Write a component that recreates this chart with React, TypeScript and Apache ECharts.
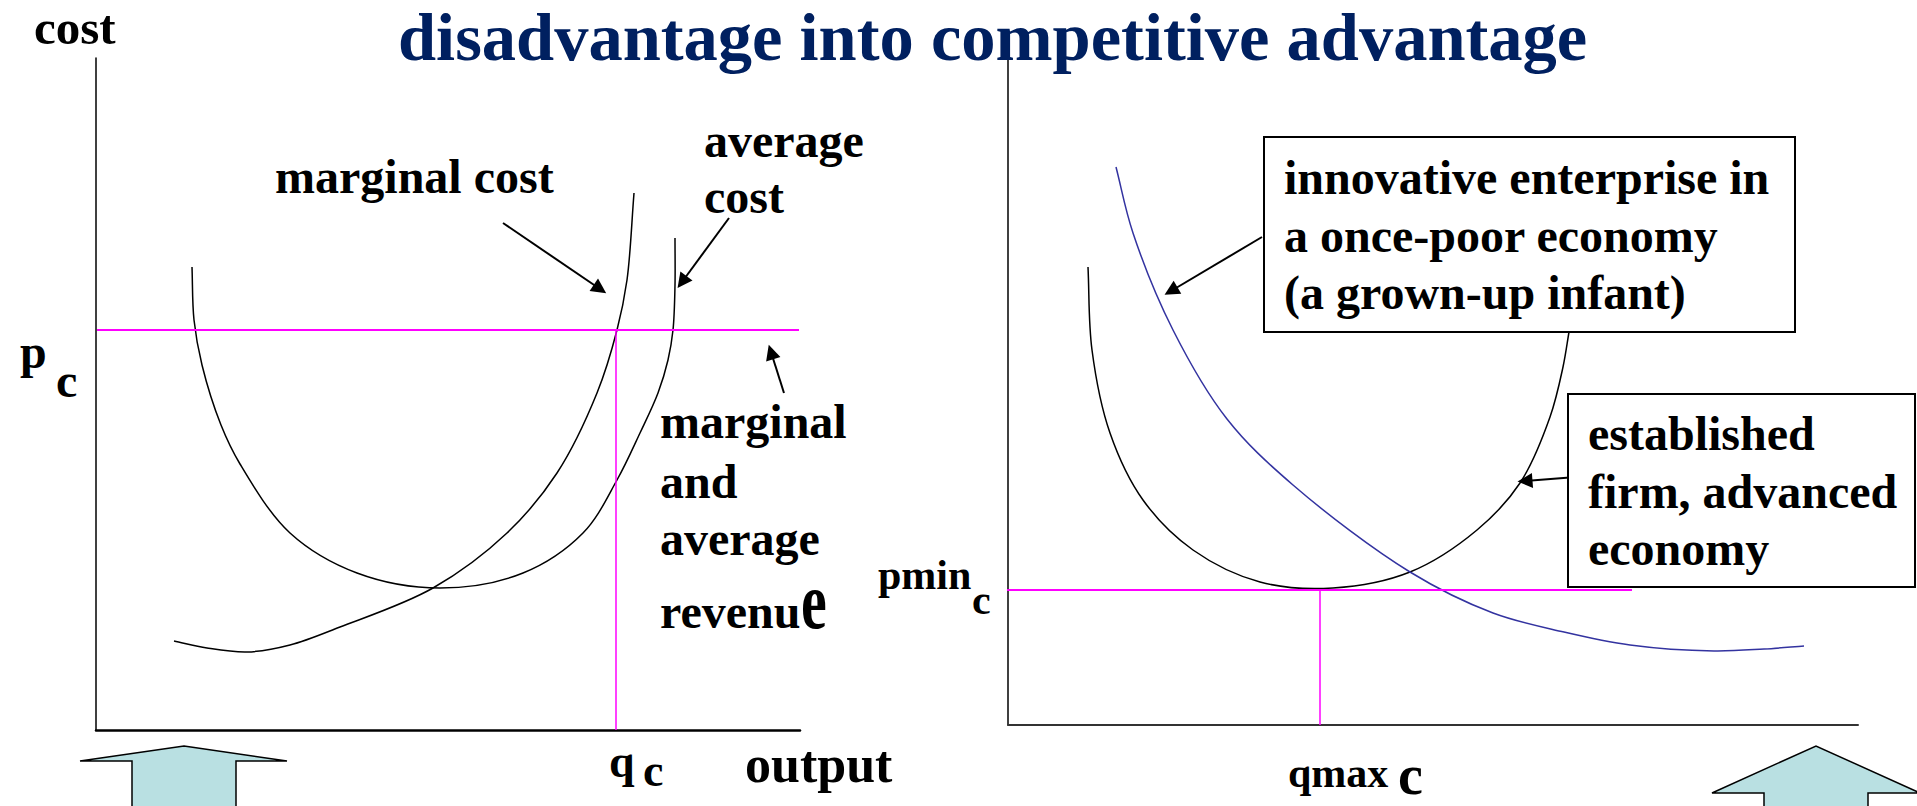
import React, { useEffect, useRef } from "react";
import * as echarts from "echarts";

// ---- data (left panel: output vs cost, right panel: output vs cost) ----
const leftMarginalCost: number[][] = [
  [78, 89], [111, 82], [151, 78], [194, 85], [244, 103], [337, 142], [411, 197],
  [461, 257], [501, 337], [521, 400], [531, 450], [538, 537],
];
const leftAverageCost: number[][] = [
  [96, 463], [98, 410], [106, 365], [125, 305], [144, 266], [194, 197], [261, 157], [344, 142],
  [427, 157], [487, 197], [521, 250], [544, 297], [562, 337], [572, 370], [577, 400],
  [579, 445], [579, 492],
];
const leftPriceLine: number[][] = [[1, 400], [703, 400]];
const leftQuantityLine: number[][] = [[520, 400], [520, 0]];

const rightEstablished: number[][] = [
  [80, 458], [84, 375], [102, 292], [135, 225], [185, 175], [252, 143], [325, 137],
  [402, 153], [469, 195], [512, 242], [542, 308], [555, 358], [561, 393],
];
const rightInnovative: number[][] = [
  [108, 558], [125, 492], [165, 395], [219, 306], [285, 240], [402, 153],
  [485, 112], [556, 93], [622, 80], [706, 74], [756, 76], [796, 79],
];
const rightPriceLine: number[][] = [[-8, 135], [624, 135]];
const rightQuantityLine: number[][] = [[312, 135], [312, 0]];

// annotation arrows [from, to] in data units
const leftArrows: number[][][] = [
  [[407, 507], [504, 441]],
  [[633, 512], [586, 448]],
  [[688, 337], [675, 378]],
];
const rightArrows: number[][][] = [
  [[254, 488], [163, 434]],
  [[581, 249], [517, 244]],
];

const titleText = "disadvantage into competitive advantage";
const box1Lines = ["innovative enterprise in", "a once-poor economy", "(a grown-up infant)"];
const box2Lines = ["established", "firm, advanced", "economy"];
const revenueLines = ["marginal", "and", "average"];

const FONT = '"Liberation Serif", "Times New Roman", serif';

function txt(text: string, x: number, baseline: number, fs: number, extra: any = {}) {
  return {
    type: "text",
    x,
    y: baseline - 0.3375 * fs,
    z: 100,
    ...extra,
    style: {
      text,
      fill: extra.color || "#000",
      font: `bold ${fs}px ${FONT}`,
      textAlign: "left",
      textVerticalAlign: "middle",
      align: "left",
      verticalAlign: "middle",
    },
  };
}

// centripetal Catmull-Rom spline through the projected points
function splinePath(p: number[][]): string {
  const n = p.length;
  if (n < 2) return "";
  let d = `M${p[0][0]},${p[0][1]}`;
  const dist = (a: number[], b: number[]) => Math.hypot(a[0] - b[0], a[1] - b[1]);
  for (let i = 0; i < n - 1; i++) {
    const p0 = p[i - 1] || p[i];
    const p1 = p[i];
    const p2 = p[i + 1];
    const p3 = p[i + 2] || p[i + 1];
    const l1 = dist(p0, p1), l2 = dist(p1, p2), l3 = dist(p2, p3);
    const d1 = Math.sqrt(l1), d2 = Math.sqrt(l2), d3 = Math.sqrt(l3);
    let c1: number[], c2: number[];
    if (l1 < 1e-6) {
      c1 = [p1[0] + (p2[0] - p1[0]) / 3, p1[1] + (p2[1] - p1[1]) / 3];
    } else {
      const den = 3 * d1 * (d1 + d2);
      c1 = [0, 1].map(
        (k) => (l1 * p2[k] - l2 * p0[k] + (2 * l1 + 3 * d1 * d2 + l2) * p1[k]) / den
      );
    }
    if (l3 < 1e-6) {
      c2 = [p2[0] - (p2[0] - p1[0]) / 3, p2[1] - (p2[1] - p1[1]) / 3];
    } else {
      const den = 3 * d3 * (d3 + d2);
      c2 = [0, 1].map(
        (k) => (l3 * p1[k] - l2 * p3[k] + (2 * l3 + 3 * d3 * d2 + l2) * p2[k]) / den
      );
    }
    d += ` C${c1[0]},${c1[1]} ${c2[0]},${c2[1]} ${p2[0]},${p2[1]}`;
  }
  return d;
}

function curve(data: number[][], idx: number, color: string, width: number) {
  return {
    type: "custom",
    xAxisIndex: idx,
    yAxisIndex: idx,
    data,
    silent: true,
    clip: false,
    z: 3,
    renderItem: (params: any, api: any) => {
      if (params.dataIndexInside !== 0) return null;
      const pts: number[][] = [];
      for (let i = 0; i < params.dataInsideLength; i++) {
        pts.push(api.coord([api.value(0, i), api.value(1, i)]));
      }
      return {
        type: "path",
        shape: { pathData: splinePath(pts) },
        style: { fill: "none", stroke: color, lineWidth: width },
        silent: true,
      };
    },
  };
}

function straight(data: number[][], idx: number, color: string, width: number) {
  return {
    type: "line",
    xAxisIndex: idx,
    yAxisIndex: idx,
    data,
    symbol: "none",
    showSymbol: false,
    silent: true,
    clip: false,
    lineStyle: { color, width },
  };
}

function arrowMarks(arrows: number[][][]) {
  return {
    silent: true,
    symbol: ["none", "triangle"],
    symbolSize: 15,
    label: { show: false },
    lineStyle: { color: "#000", width: 2, type: "solid" },
    itemStyle: { color: "#000" },
    emphasis: { disabled: true },
    data: arrows.map((a) => [{ coord: a[0] }, { coord: a[1] }]),
  };
}

export default function App() {
  const ref = useRef<HTMLDivElement>(null);
  useEffect(() => {
    if (!ref.current) return;
    const chart = echarts.init(ref.current, undefined, { renderer: "svg" });
    const axisCommon = {
      type: "value",
      axisTick: { show: false },
      axisLabel: { show: false },
      splitLine: { show: false },
    };
    const magentaL: any = straight(leftPriceLine, 0, "#ff00ff", 2);
    magentaL.markLine = arrowMarks(leftArrows);
    const magentaR: any = straight(rightPriceLine, 1, "#ff00ff", 2);
    magentaR.markLine = arrowMarks(rightArrows);

    const graphics: any[] = [
      txt(titleText, 398, 60, 68.5, { color: "#002060" }),
      txt("cost", 34, 44, 49),
      txt("marginal cost", 275, 193, 48),
      txt("average", 704, 157, 48),
      txt("cost", 704, 213, 48),
      txt("p", 20, 368, 48),
      txt("c", 56, 397, 48),
      ...revenueLines.map((t, i) => txt(t, 660, [438, 498, 555][i], 48)),
      txt("revenu", 660, 628, 48),
      {
        ...txt("e", 801, 628, 58),
        y: 628 - 0.3375 * 58 * 1.38,
        scaleY: 1.38,
      },
      txt("q", 609, 777, 46),
      txt("c", 643, 786, 46),
      txt("output", 745, 782, 52),
      txt("pmin", 878, 589, 42),
      txt("c", 972, 614, 42),
      txt("qmax", 1288, 787, 42),
      txt("c", 1398, 794, 56),
      {
        type: "rect",
        z: 90,
        shape: { x: 1264, y: 137, width: 531, height: 195 },
        style: { fill: "#fff", stroke: "#000", lineWidth: 2 },
      },
      ...box1Lines.map((t, i) => txt(t, 1284, [194, 252, 309][i], 48)),
      {
        type: "rect",
        z: 90,
        shape: { x: 1568, y: 394, width: 347, height: 193 },
        style: { fill: "#fff", stroke: "#000", lineWidth: 2 },
      },
      ...box2Lines.map((t, i) => txt(t, 1588, [450, 508, 565][i], 48)),
      {
        type: "polygon",
        z: 90,
        shape: {
          points: [[132, 812], [132, 761], [80, 761], [184, 746], [287, 761], [236, 761], [236, 812]],
        },
        style: { fill: "#b9e0e2", stroke: "#000", lineWidth: 1.5 },
      },
      {
        type: "polygon",
        z: 90,
        shape: {
          points: [[1764, 812], [1764, 793], [1712, 793], [1816, 746], [1920, 793], [1868, 793], [1868, 812]],
        },
        style: { fill: "#b9e0e2", stroke: "#000", lineWidth: 1.5 },
      },
    ];

    chart.setOption({
      animation: false,
      backgroundColor: "#fff",
      grid: [
        { left: 96, top: 58, width: 704, height: 672 },
        { left: 1008, top: 58, width: 850, height: 667 },
      ],
      xAxis: [
        { ...axisCommon, gridIndex: 0, min: 0, max: 704, axisLine: { lineStyle: { color: "#000", width: 2.5 } } },
        { ...axisCommon, gridIndex: 1, min: 0, max: 850, axisLine: { lineStyle: { color: "#333", width: 2 } } },
      ],
      yAxis: [
        { ...axisCommon, gridIndex: 0, min: 0, max: 672, axisLine: { lineStyle: { color: "#000", width: 1.5 } } },
        { ...axisCommon, gridIndex: 1, min: 0, max: 667, axisLine: { lineStyle: { color: "#000", width: 1.5 } } },
      ],
      series: [
        curve(leftMarginalCost, 0, "#000", 1.5),
        curve(leftAverageCost, 0, "#000", 1.5),
        magentaL,
        straight(leftQuantityLine, 0, "#ff00ff", 1.5),
        curve(rightEstablished, 1, "#000", 1.5),
        curve(rightInnovative, 1, "#3333a0", 1.5),
        magentaR,
        straight(rightQuantityLine, 1, "#ff00ff", 1.5),
      ],
      graphic: { elements: graphics },
    });
    return () => chart.dispose();
  }, []);
  return (
    <div
      ref={ref}
      style={{ position: "fixed", left: 0, top: 0, width: 1917, height: 806, background: "#fff" }}
    />
  );
}
